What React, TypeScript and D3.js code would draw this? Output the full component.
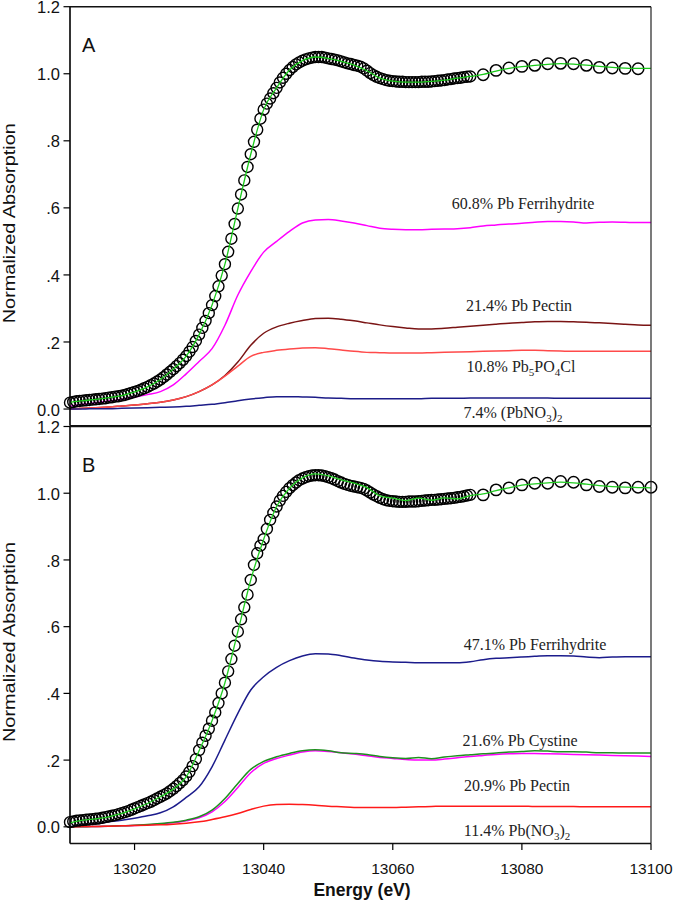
import React from "react";
import * as d3 from "d3";

// ---------- energy grids ----------
const E_DENSE = d3.range(0, 125).map((i) => 13010 + i * 0.5); // 13010..13072 step 0.5
const E_GRID = d3.range(0, 46).map((i) => 13010 + i * 2); // 13010..13100 step 2
const E_SPARSE_A = [13074, 13076, 13078, 13080, 13082, 13084, 13086, 13088, 13090, 13092, 13094, 13096, 13098];
const E_SPARSE_B = [13074, 13076, 13078, 13080, 13082, 13084, 13086, 13088, 13090, 13092, 13094, 13096, 13098, 13100];

const X_TICKS = [13020, 13040, 13060, 13080, 13100];
const Y_TICKS = [0, 0.2, 0.4, 0.6, 0.8, 1.0, 1.2];
const Y_TICK_LABELS = ["0.0", ".2", ".4", ".6", ".8", "1.0", "1.2"];

// ---------- panel A ----------
const A_DATA = [
  0.019, 0.021, 0.023, 0.024, 0.025, 0.026, 0.027, 0.028, 0.029, 0.030,
  0.031, 0.032, 0.034, 0.035, 0.037, 0.038, 0.040, 0.042, 0.045, 0.048,
  0.051, 0.054, 0.058, 0.062, 0.066, 0.071, 0.076, 0.082, 0.088, 0.095,
  0.103, 0.111, 0.119, 0.128, 0.137, 0.147, 0.158, 0.171, 0.185, 0.203,
  0.222, 0.242, 0.263, 0.286, 0.310, 0.337, 0.366, 0.398, 0.432, 0.469,
  0.508, 0.552, 0.598, 0.640, 0.682, 0.722, 0.760, 0.797, 0.833, 0.866,
  0.893, 0.911, 0.926, 0.942, 0.958, 0.974, 0.988, 1.000, 1.011, 1.020,
  1.028, 1.034, 1.039, 1.043, 1.046, 1.048, 1.050, 1.050, 1.050, 1.048,
  1.046, 1.044, 1.042, 1.040, 1.037, 1.034, 1.031, 1.029, 1.026, 1.024,
  1.021, 1.016, 1.009, 1.002, 0.996, 0.991, 0.987, 0.984, 0.981, 0.979,
  0.978, 0.977, 0.976, 0.976, 0.975, 0.975, 0.975, 0.975, 0.975, 0.976,
  0.976, 0.976, 0.977, 0.978, 0.979, 0.980, 0.981, 0.983, 0.984, 0.986,
  0.987, 0.988, 0.990, 0.991, 0.992,
];
const A_SPARSE = [0.997, 1.010, 1.017, 1.022, 1.025, 1.030, 1.031, 1.030, 1.025, 1.019, 1.017, 1.016, 1.015];
const A_FIT = [
  0.020, 0.025, 0.029, 0.034, 0.040, 0.051, 0.066, 0.088, 0.119, 0.158,
  0.222, 0.310, 0.432, 0.598, 0.760, 0.893, 0.958, 1.011, 1.039, 1.050,
  1.046, 1.037, 1.026, 1.009, 0.987, 0.978, 0.975, 0.975, 0.977, 0.981,
  0.987, 0.992, 0.998, 1.008, 1.016, 1.021, 1.025, 1.028, 1.030, 1.029,
  1.026, 1.022, 1.019, 1.017, 1.016, 1.016,
];
const A_FERRI = [
  0.008, 0.014, 0.019, 0.024, 0.029, 0.036, 0.043, 0.052, 0.072, 0.105,
  0.142, 0.180, 0.250, 0.340, 0.410, 0.468, 0.500, 0.530, 0.555, 0.564,
  0.565, 0.561, 0.555, 0.547, 0.539, 0.536, 0.535, 0.535, 0.536, 0.537,
  0.538, 0.541, 0.546, 0.549, 0.552, 0.554, 0.557, 0.559, 0.559, 0.558,
  0.555, 0.557, 0.558, 0.557, 0.556, 0.556,
];
const A_PECTIN = [
  0.000, 0.002, 0.004, 0.006, 0.009, 0.012, 0.016, 0.020, 0.027, 0.037,
  0.052, 0.072, 0.100, 0.140, 0.190, 0.226, 0.245, 0.256, 0.264, 0.270,
  0.271, 0.268, 0.263, 0.257, 0.251, 0.246, 0.242, 0.239, 0.239, 0.241,
  0.244, 0.247, 0.250, 0.253, 0.256, 0.258, 0.260, 0.261, 0.261, 0.260,
  0.259, 0.257, 0.255, 0.253, 0.251, 0.250,
];
const A_PB5 = [
  0.000, 0.002, 0.004, 0.006, 0.009, 0.012, 0.016, 0.020, 0.027, 0.037,
  0.052, 0.072, 0.098, 0.128, 0.157, 0.169, 0.175, 0.179, 0.182, 0.183,
  0.180, 0.176, 0.172, 0.169, 0.168, 0.167, 0.167, 0.167, 0.168, 0.169,
  0.170, 0.171, 0.172, 0.173, 0.174, 0.175, 0.175, 0.174, 0.173, 0.172,
  0.172, 0.172, 0.172, 0.172, 0.172, 0.172,
];
const A_PBNO3 = [
  0.000, 0.000, 0.001, 0.001, 0.002, 0.003, 0.004, 0.005, 0.006, 0.008,
  0.011, 0.014, 0.019, 0.025, 0.030, 0.034, 0.037, 0.037, 0.036, 0.035,
  0.033, 0.032, 0.031, 0.031, 0.031, 0.031, 0.031, 0.031, 0.032, 0.032,
  0.032, 0.033, 0.033, 0.033, 0.033, 0.033, 0.033, 0.033, 0.032, 0.032,
  0.032, 0.032, 0.032, 0.032, 0.032, 0.032,
];

// ---------- panel B ----------
const B_DATA = [
  0.014, 0.016, 0.018, 0.019, 0.020, 0.021, 0.022, 0.023, 0.024, 0.025,
  0.027, 0.029, 0.031, 0.033, 0.035, 0.038, 0.041, 0.044, 0.047, 0.051,
  0.055, 0.059, 0.063, 0.067, 0.071, 0.075, 0.080, 0.085, 0.090, 0.095,
  0.100, 0.107, 0.114, 0.122, 0.131, 0.140, 0.151, 0.165, 0.182, 0.203,
  0.230, 0.252, 0.273, 0.294, 0.318, 0.343, 0.371, 0.400, 0.432, 0.466,
  0.503, 0.543, 0.585, 0.622, 0.658, 0.696, 0.740, 0.785, 0.820, 0.843,
  0.862, 0.893, 0.920, 0.941, 0.960, 0.978, 0.992, 1.004, 1.015, 1.024,
  1.032, 1.039, 1.044, 1.048, 1.051, 1.053, 1.054, 1.054, 1.053, 1.051,
  1.048, 1.045, 1.041, 1.036, 1.032, 1.028, 1.025, 1.022, 1.020, 1.018,
  1.016, 1.013, 1.008, 1.002, 0.996, 0.991, 0.986, 0.982, 0.979, 0.977,
  0.976, 0.975, 0.974, 0.974, 0.974, 0.975, 0.975, 0.975, 0.976, 0.977,
  0.978, 0.979, 0.980, 0.980, 0.981, 0.982, 0.983, 0.984, 0.985, 0.986,
  0.988, 0.989, 0.991, 0.993, 0.995,
];
const B_SPARSE = [0.995, 1.010, 1.016, 1.025, 1.030, 1.030, 1.035, 1.033, 1.025, 1.020, 1.018, 1.016, 1.018, 1.018];
const B_FIT = [
  0.012, 0.020, 0.024, 0.030, 0.040, 0.054, 0.070, 0.090, 0.113, 0.150,
  0.228, 0.318, 0.432, 0.585, 0.740, 0.862, 0.960, 1.015, 1.046, 1.058,
  1.052, 1.040, 1.030, 1.017, 0.992, 0.985, 0.978, 0.985, 0.979, 0.986,
  0.983, 0.993, 0.998, 1.008, 1.016, 1.024, 1.028, 1.031, 1.033, 1.031,
  1.027, 1.023, 1.020, 1.018, 1.017, 1.016,
];
const B_FERRI = [
  0.000, 0.006, 0.010, 0.015, 0.020, 0.026, 0.033, 0.042, 0.060, 0.088,
  0.120, 0.180, 0.260, 0.340, 0.410, 0.450, 0.478, 0.498, 0.512, 0.519,
  0.518, 0.513, 0.506, 0.500, 0.496, 0.494, 0.493, 0.492, 0.492, 0.492,
  0.492, 0.495, 0.501, 0.505, 0.507, 0.509, 0.511, 0.513, 0.513, 0.512,
  0.509, 0.507, 0.509, 0.510, 0.510, 0.510,
];
const B_CYST = [
  0.000, 0.000, 0.001, 0.002, 0.003, 0.005, 0.007, 0.010, 0.014, 0.020,
  0.030, 0.050, 0.085, 0.130, 0.172, 0.196, 0.210, 0.220, 0.228, 0.231,
  0.228, 0.222, 0.220, 0.217, 0.211, 0.207, 0.205, 0.208, 0.204, 0.209,
  0.213, 0.216, 0.219, 0.221, 0.224, 0.226, 0.228, 0.227, 0.225, 0.225,
  0.224, 0.222, 0.222, 0.221, 0.221, 0.221,
];
const B_PECTIN = [
  0.000, 0.000, 0.001, 0.002, 0.003, 0.004, 0.006, 0.009, 0.012, 0.018,
  0.027, 0.045, 0.076, 0.118, 0.162, 0.190, 0.205, 0.215, 0.224, 0.228,
  0.226, 0.222, 0.218, 0.213, 0.208, 0.205, 0.202, 0.200, 0.200, 0.203,
  0.207, 0.211, 0.214, 0.217, 0.219, 0.220, 0.220, 0.219, 0.218, 0.217,
  0.216, 0.215, 0.214, 0.213, 0.212, 0.211,
];
const B_PBNO3 = [
  0.000, 0.001, 0.001, 0.002, 0.003, 0.004, 0.005, 0.006, 0.008, 0.011,
  0.015, 0.022, 0.030, 0.040, 0.052, 0.062, 0.067, 0.068, 0.067, 0.065,
  0.062, 0.060, 0.058, 0.058, 0.058, 0.058, 0.059, 0.060, 0.061, 0.062,
  0.062, 0.062, 0.062, 0.062, 0.062, 0.062, 0.061, 0.061, 0.061, 0.061,
  0.060, 0.060, 0.060, 0.060, 0.060, 0.060,
];

const W = 675;
const H = 916;
const SANS = "Arial, 'Liberation Sans', sans-serif";
const SERIF = "'Times New Roman', 'Liberation Serif', serif";

const x = d3.scaleLinear().domain([13010, 13100]).range([70, 651]);
const yA = d3.scaleLinear().domain([-0.05, 1.2]).range([425.8, 6.7]);
const yB = d3.scaleLinear().domain([-0.05, 1.2]).range([843.5, 426.5]);

function linePath(xs: number[], ys: number[], y: d3.ScaleLinear<number, number>) {
  const gen = d3
    .line<number>()
    .x((_, i) => x(xs[i]))
    .y((v) => y(v))
    .curve(d3.curveMonotoneX);
  return gen(ys) || "";
}

type Comp = { vals: number[]; color: string; width?: number };

function Panel({
  y,
  label,
  dense,
  sparse,
  sparseE,
  fit,
  fitColor,
  comps,
}: {
  y: d3.ScaleLinear<number, number>;
  label: string;
  dense: number[];
  sparse: number[];
  sparseE: number[];
  fit: number[];
  fitColor: string;
  comps: Comp[];
}) {
  const [top, bottom] = [y(1.2), y(-0.05)];
  return (
    <g>
      {comps.map((c, i) => (
        <path key={i} d={linePath(E_GRID, c.vals, y)} fill="none" stroke={c.color} strokeWidth={c.width ?? 1.5} />
      ))}
      {dense.map((v, i) => (
        <circle key={"d" + i} cx={x(E_DENSE[i])} cy={y(v)} r={5.5} fill="none" stroke="#000" strokeWidth={1.4} />
      ))}
      {sparse.map((v, i) => (
        <circle key={"s" + i} cx={x(sparseE[i])} cy={y(v)} r={5.7} fill="none" stroke="#000" strokeWidth={1.5} />
      ))}
      <path d={linePath(E_GRID, fit, y)} fill="none" stroke={fitColor} strokeWidth={1.3} />
      {/* y axis ticks */}
      {Y_TICKS.map((t, i) => (
        <g key={"yt" + i}>
          <line x1={63.5} x2={70} y1={y(t)} y2={y(t)} stroke="#000" strokeWidth={1.2} />
          <text x={60} y={y(t)} dy="0.4em" textAnchor="end" fontFamily={SANS} fontSize={16.5} fill="#111">
            {Y_TICK_LABELS[i]}
          </text>
        </g>
      ))}
      {/* frame */}
      <line x1={70} x2={70} y1={top} y2={bottom} stroke="#000" strokeWidth={1.6} />
      <line x1={651} x2={651} y1={top} y2={bottom} stroke="#222" strokeWidth={1.2} />
      <line x1={70} x2={651} y1={top} y2={top} stroke="#111" strokeWidth={1.4} />
      <line x1={70} x2={651} y1={bottom} y2={bottom} stroke="#111" strokeWidth={1.4} />
      <text x={82} y={y(1.2) + 45.5} fontFamily={SANS} fontSize={20} fill="#111">
        {label}
      </text>
      <text
        transform={`translate(15, ${(top + bottom) / 2 + 7}) rotate(-90)`}
        textAnchor="middle"
        fontFamily={SANS}
        fontSize={17}
        textLength={200}
        lengthAdjust="spacingAndGlyphs"
        fill="#111"
      >
        Normalized Absorption
      </text>
    </g>
  );
}

const SUB = { fontSize: 11 } as const;

export default function App() {
  return (
    <svg width={W} height={H} style={{ position: "absolute", left: 0, top: 0, background: "#fff" }}>
      <rect x={0} y={0} width={W} height={H} fill="#fff" />
      <Panel
        y={yA}
        label="A"
        dense={A_DATA}
        sparse={A_SPARSE}
        sparseE={E_SPARSE_A}
        fit={A_FIT}
        fitColor="#19c819"
        comps={[
          { vals: A_FERRI, color: "#ff00ff" },
          { vals: A_PECTIN, color: "#7a1414" },
          { vals: A_PB5, color: "#ff4a4a" },
          { vals: A_PBNO3, color: "#1c1c88" },
        ]}
      />
      <Panel
        y={yB}
        label="B"
        dense={B_DATA}
        sparse={B_SPARSE}
        sparseE={E_SPARSE_B}
        fit={B_FIT}
        fitColor="#22cc22"
        comps={[
          { vals: B_FERRI, color: "#1c1c8c" },
          { vals: B_PECTIN, color: "#ff00ff" },
          { vals: B_CYST, color: "#1f8f1f" },
          { vals: B_PBNO3, color: "#ff1a1a" },
        ]}
      />
      {/* x axis ticks (panel B bottom) */}
      {X_TICKS.map((t) => (
        <g key={"xt" + t}>
          <line x1={x(t)} x2={x(t)} y1={843.5} y2={850} stroke="#000" strokeWidth={1.2} />
          <text x={x(t)} y={874} textAnchor="middle" fontFamily={SANS} fontSize={15.5} fill="#111">
            {t}
          </text>
        </g>
      ))}
      <text x={362} y={896} textAnchor="middle" fontFamily={SANS} fontSize={17.5} fontWeight="bold" fill="#111">
        Energy (eV)
      </text>

      {/* component labels A */}
      <g fontFamily={SERIF} fontSize={16} fill="#222" textAnchor="middle">
        <text x={523} y={209}>60.8% Pb Ferrihydrite</text>
        <text x={519} y={311}>21.4% Pb Pectin</text>
        <text x={521} y={372}>
          10.8% Pb<tspan {...SUB} dy={4}>5</tspan>
          <tspan dy={-4}>PO</tspan>
          <tspan {...SUB} dy={4}>4</tspan>
          <tspan dy={-4}>Cl</tspan>
        </text>
        <text x={513} y={418}>
          7.4% (PbNO<tspan {...SUB} dy={4}>3</tspan>
          <tspan dy={-4}>)</tspan>
          <tspan {...SUB} dy={4}>2</tspan>
        </text>
        {/* component labels B */}
        <text x={535} y={650}>47.1% Pb Ferrihydrite</text>
        <text x={520} y={746}>21.6% Pb Cystine</text>
        <text x={517} y={791}>20.9% Pb Pectin</text>
        <text x={517} y={836}>
          11.4% Pb(NO<tspan {...SUB} dy={4}>3</tspan>
          <tspan dy={-4}>)</tspan>
          <tspan {...SUB} dy={4}>2</tspan>
        </text>
      </g>
    </svg>
  );
}
